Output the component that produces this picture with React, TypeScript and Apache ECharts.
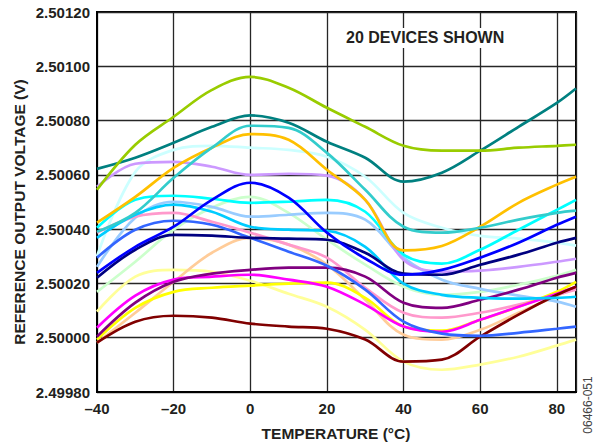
import React, { useEffect, useRef } from "react";
import * as echarts from "echarts";

// Temperatures (°C) at which each device curve is sampled
const temps = [-40, -30, -20, -10, 0, 10, 20, 30, 40, 50, 60, 70, 80, 85];

// Reference output voltage (V) of the 20 devices
const yellowGreen = [2.500545, 2.500711, 2.500814, 2.500913, 2.500961, 2.500921, 2.500847, 2.500777, 2.500707, 2.500689, 2.500689, 2.5007, 2.500707, 2.500711];
const teal = [2.500622, 2.500663, 2.500718, 2.500777, 2.500819, 2.500792, 2.500722, 2.500663, 2.500575, 2.500608, 2.500689, 2.500777, 2.500865, 2.500918];
const turquoise = [2.50039, 2.50046, 2.500589, 2.5007, 2.500781, 2.500773, 2.500681, 2.500545, 2.500409, 2.500387, 2.500405, 2.500435, 2.50046, 2.500468];
const gold = [2.500424, 2.500519, 2.500626, 2.5007, 2.50075, 2.500729, 2.500619, 2.500508, 2.500322, 2.500338, 2.500409, 2.500497, 2.500564, 2.500593];
const paleCyan = [2.5003, 2.500611, 2.500692, 2.500707, 2.5007, 2.500692, 2.500667, 2.500593, 2.50046, 2.500405, 2.500375, 2.500365, 2.50035, 2.500339];
const lavender = [2.500556, 2.500641, 2.500648, 2.50063, 2.5006, 2.500604, 2.500597, 2.500508, 2.500287, 2.500243, 2.500247, 2.500261, 2.50028, 2.500291];
const blue = [2.500239, 2.500335, 2.500409, 2.500508, 2.500571, 2.500516, 2.500387, 2.500292, 2.500232, 2.50025, 2.500295, 2.50035, 2.500416, 2.500446];
const cyan = [2.500405, 2.500508, 2.500523, 2.500512, 2.500497, 2.500501, 2.500508, 2.500464, 2.500306, 2.500273, 2.500324, 2.500398, 2.500471, 2.500508];
const lightSky = [2.500261, 2.500442, 2.500501, 2.500482, 2.500446, 2.500453, 2.50046, 2.500435, 2.500295, 2.500214, 2.50018, 2.500155, 2.500133, 2.500114];
const deepSky = [2.500368, 2.500453, 2.50049, 2.500464, 2.500409, 2.500398, 2.500394, 2.500335, 2.500199, 2.500158, 2.500147, 2.500144, 2.500147, 2.500151];
const pink = [2.500387, 2.500446, 2.50046, 2.500427, 2.500387, 2.500343, 2.500295, 2.500184, 2.500092, 2.500074, 2.500092, 2.500122, 2.500158, 2.500177];
const royalBlue = [2.500295, 2.500398, 2.500431, 2.500416, 2.500368, 2.500317, 2.500265, 2.500177, 2.500059, 2.500015, 2.500007, 2.500018, 2.500033, 2.500041];
const navy = [2.500221, 2.500324, 2.500379, 2.500376, 2.500368, 2.500365, 2.500361, 2.500313, 2.500236, 2.500232, 2.500269, 2.500306, 2.50035, 2.500368];
const lightGreen = [2.500169, 2.50028, 2.500398, 2.500479, 2.500519, 2.50046, 2.500361, 2.500269, 2.500188, 2.500158, 2.500169, 2.500195, 2.500228, 2.50025];
const peach = [2.499982, 2.500092, 2.500206, 2.500313, 2.500368, 2.500343, 2.500269, 2.50014, 2.500011, 2.499993, 2.500029, 2.500092, 2.500155, 2.500184];
const purple = [2.500004, 2.500129, 2.500206, 2.500236, 2.50025, 2.500258, 2.500258, 2.500225, 2.500129, 2.50011, 2.50014, 2.500177, 2.500221, 2.500239];
const magenta = [2.500037, 2.500155, 2.500214, 2.500225, 2.500232, 2.500214, 2.500188, 2.500122, 2.500041, 2.500022, 2.500066, 2.500114, 2.500162, 2.500188];
const yellow = [2.499993, 2.50011, 2.500169, 2.500184, 2.500192, 2.500199, 2.500203, 2.500147, 2.500041, 2.500026, 2.500066, 2.500114, 2.500169, 2.500206];
const lightYellow = [2.500096, 2.500225, 2.50025, 2.500243, 2.50021, 2.500162, 2.500114, 2.500029, 2.499912, 2.499882, 2.499901, 2.49993, 2.499971, 2.499993];
const maroon = [2.499982, 2.500059, 2.500081, 2.500074, 2.500052, 2.500041, 2.500033, 2.499993, 2.499912, 2.499919, 2.500004, 2.500085, 2.500158, 2.500188];

const devices: { values: number[]; color: string }[] = [
  { values: lightYellow, color: "#FFFF99" },
  { values: paleCyan, color: "#CCFFFF" },
  { values: lightGreen, color: "#CCFFCC" },
  { values: peach, color: "#FFCC99" },
  { values: lightSky, color: "#99CCFF" },
  { values: pink, color: "#FF99CC" },
  { values: lavender, color: "#CC99FF" },
  { values: yellow, color: "#FFFF00" },
  { values: magenta, color: "#FF00FF" },
  { values: purple, color: "#800080" },
  { values: maroon, color: "#800000" },
  { values: deepSky, color: "#00CCFF" },
  { values: cyan, color: "#00FFFF" },
  { values: royalBlue, color: "#3366FF" },
  { values: navy, color: "#000080" },
  { values: blue, color: "#0000FF" },
  { values: gold, color: "#FFC000" },
  { values: turquoise, color: "#33CCCC" },
  { values: teal, color: "#008080" },
  { values: yellowGreen, color: "#99CC00" },
];

const FONT = "'Liberation Sans', Arial, Helvetica, sans-serif";
const TEXT = "#231f20";

export default function App() {
  const ref = useRef<HTMLDivElement>(null);

  useEffect(() => {
    if (!ref.current) return;
    const chart = echarts.init(ref.current, null, { renderer: "svg" });
    chart.setOption({
      animation: false,
      backgroundColor: "#ffffff",
      grid: {
        left: 97,
        top: 12,
        width: 479,
        height: 380,
        show: true,
        borderColor: "#000",
        borderWidth: 2,
        backgroundColor: "transparent",
      },
      xAxis: {
        type: "value",
        min: -40,
        max: 85,
        interval: 20,
        axisLine: { show: true, onZero: false, lineStyle: { color: "#000", width: 2 } },
        axisTick: { show: false },
        splitLine: { show: true, lineStyle: { color: "#262626", width: 1.3 } },
        axisLabel: {
          showMaxLabel: false,
          margin: 9,
          color: TEXT,
          fontFamily: FONT,
          fontWeight: "bold",
          fontSize: 15,
          formatter: (v: number) => (v < 0 ? "\u2013" + Math.abs(v) : String(v)),
        },
      },
      yAxis: {
        type: "value",
        min: 2.4998,
        max: 2.5012,
        interval: 0.0002,
        axisLine: { show: true, onZero: false, lineStyle: { color: "#000", width: 2 } },
        axisTick: { show: false },
        splitLine: { show: true, lineStyle: { color: "#262626", width: 1.3 } },
        axisLabel: {
          margin: 7,
          color: TEXT,
          fontFamily: FONT,
          fontWeight: "bold",
          fontSize: 15,
          formatter: (v: number) => v.toFixed(5),
        },
      },
      series: devices.map((d, i) => ({
        type: "line",
        name: "Device " + (i + 1),
        data: temps.map((t, k) => [t, d.values[k]]),
        smooth: 0.35,
        showSymbol: false,
        symbol: "none",
        clip: true,
        lineStyle: { color: d.color, width: 2.7 },
        z: 3,
      })),
      graphic: [
        {
          type: "rect",
          shape: { x: 341, y: 28, width: 167, height: 20 },
          style: { fill: "#ffffff" },
          z: 10,
        },
        {
          type: "text",
          x: 346,
          y: 37,
          z: 11,
          style: {
            text: "20 DEVICES SHOWN",
            font: `bold 16px ${FONT}`,
            fill: TEXT,
            align: "left",
            verticalAlign: "middle",
          },
        },
        {
          type: "text",
          x: 19,
          y: 212,
          rotation: Math.PI / 2,
          style: {
            text: "REFERENCE OUTPUT VOLTAGE (V)",
            font: `bold 15.5px ${FONT}`,
            fill: TEXT,
            align: "center",
            verticalAlign: "middle",
          },
        },
        {
          type: "text",
          x: 336,
          y: 433,
          style: {
            text: "TEMPERATURE (°C)",
            font: `bold 15.5px ${FONT}`,
            fill: TEXT,
            align: "center",
            verticalAlign: "middle",
          },
        },
        {
          type: "text",
          x: 588,
          y: 405,
          rotation: Math.PI / 2,
          style: {
            text: "06466-051",
            font: `12px ${FONT}`,
            fill: "#444",
            align: "center",
            verticalAlign: "middle",
          },
        },
      ],
    });
    return () => chart.dispose();
  }, []);

  return (
    <div
      ref={ref}
      style={{ position: "fixed", left: 0, top: 0, width: 595, height: 446, background: "#fff" }}
    />
  );
}
